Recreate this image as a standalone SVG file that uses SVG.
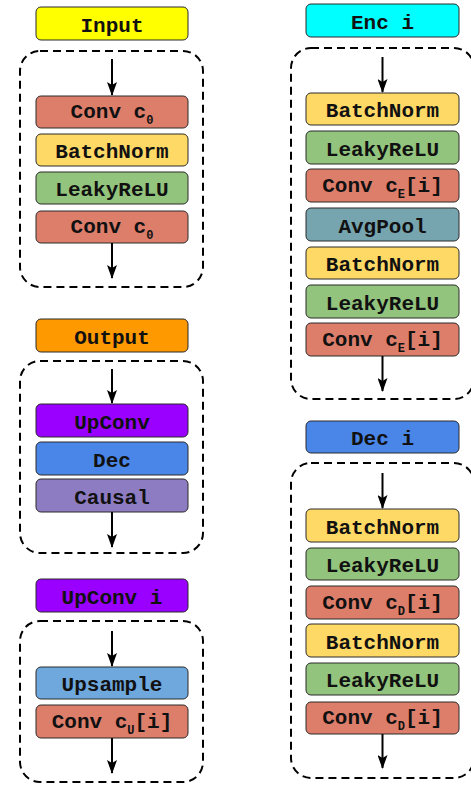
<svg xmlns="http://www.w3.org/2000/svg" width="471" height="787" viewBox="0 0 471 787">
  <style>
    .blk { stroke: #2b2b2b; stroke-width: 1; }
    .frame { fill: none; stroke: #000; stroke-width: 2; stroke-dasharray: 8 5; }
    .lbl { font-family: "Liberation Mono", "Courier New", monospace; font-weight: bold; font-size: 21px; fill: #111; text-anchor: middle; }
    .sub { font-size: 12px; }
    .flow { stroke: #000; stroke-width: 2; fill: none; marker-end: url(#head); }
    .yellow { fill: #ffff00; }
    .conv { fill: #dd7e6b; }
    .bn { fill: #ffd966; }
    .relu { fill: #93c47d; }
    .orange { fill: #ff9900; }
    .purple { fill: #9900ff; }
    .blue { fill: #4a86e8; }
    .lavender { fill: #8e7cc3; }
    .sky { fill: #6fa8dc; }
    .cyan { fill: #00ffff; }
    .teal { fill: #76a5af; }
  </style>
  <defs>
    <marker id="head" viewBox="0 0 14 10" refX="13" refY="5" markerWidth="14" markerHeight="10" markerUnits="userSpaceOnUse" orient="auto">
      <path d="M0,0 L14,5 L0,10 L3,5 z" fill="#000"/>
    </marker>
  </defs>

  <!-- dashed block frames -->
  <g id="frames">
    <rect class="frame" x="20" y="51" width="183" height="236" rx="20"/>
    <rect class="frame" x="20" y="361" width="183" height="192" rx="20"/>
    <rect class="frame" x="20" y="621" width="183" height="161" rx="20"/>
    <rect class="frame" x="291" y="48" width="183" height="351" rx="20"/>
    <rect class="frame" x="291" y="463" width="183" height="315" rx="20"/>
  </g>

  <!-- Input block -->
  <g id="input">
    <rect class="blk yellow" x="36" y="7" width="152" height="33" rx="5"/>
    <text class="lbl" x="112" y="32">Input</text>
  </g>
  <g id="input-conv1">
    <rect class="blk conv" x="36" y="96" width="152" height="32" rx="5"/>
    <text class="lbl" x="112" y="118">Conv c<tspan class="sub" dy="6">0</tspan></text>
  </g>
  <g id="input-bn">
    <rect class="blk bn" x="36" y="134" width="152" height="32" rx="5"/>
    <text class="lbl" x="112" y="158">BatchNorm</text>
  </g>
  <g id="input-relu">
    <rect class="blk relu" x="36" y="172" width="152" height="32" rx="5"/>
    <text class="lbl" x="112" y="196">LeakyReLU</text>
  </g>
  <g id="input-conv2">
    <rect class="blk conv" x="36" y="211" width="152" height="32" rx="5"/>
    <text class="lbl" x="112" y="233">Conv c<tspan class="sub" dy="6">0</tspan></text>
  </g>

  <!-- Output block -->
  <g id="output">
    <rect class="blk orange" x="36" y="319" width="152" height="33" rx="5"/>
    <text class="lbl" x="112" y="344">Output</text>
  </g>
  <g id="output-upconv">
    <rect class="blk purple" x="36" y="404" width="152" height="33" rx="5"/>
    <text class="lbl" x="112" y="429">UpConv</text>
  </g>
  <g id="output-dec">
    <rect class="blk blue" x="36" y="442" width="152" height="33" rx="5"/>
    <text class="lbl" x="112" y="467">Dec</text>
  </g>
  <g id="output-causal">
    <rect class="blk lavender" x="36" y="479" width="152" height="33" rx="5"/>
    <text class="lbl" x="112" y="504">Causal</text>
  </g>

  <!-- UpConv i block -->
  <g id="upconv-i">
    <rect class="blk purple" x="36" y="579" width="152" height="33" rx="5"/>
    <text class="lbl" x="112" y="604">UpConv i</text>
  </g>
  <g id="upconv-upsample">
    <rect class="blk sky" x="36" y="667" width="152" height="32" rx="5"/>
    <text class="lbl" x="112" y="691">Upsample</text>
  </g>
  <g id="upconv-conv">
    <rect class="blk conv" x="36" y="705" width="152" height="33" rx="5"/>
    <text class="lbl" x="112" y="728">Conv c<tspan class="sub" dy="6">U</tspan><tspan dy="-6">[i]</tspan></text>
  </g>

  <!-- Enc i block -->
  <g id="enc-i">
    <rect class="blk cyan" x="306" y="4" width="153" height="33" rx="5"/>
    <text class="lbl" x="382.5" y="29">Enc i</text>
  </g>
  <g id="enc-bn1">
    <rect class="blk bn" x="306" y="93" width="153" height="32" rx="5"/>
    <text class="lbl" x="382.5" y="117">BatchNorm</text>
  </g>
  <g id="enc-relu1">
    <rect class="blk relu" x="306" y="131" width="153" height="33" rx="5"/>
    <text class="lbl" x="382.5" y="156">LeakyReLU</text>
  </g>
  <g id="enc-conv1">
    <rect class="blk conv" x="306" y="169" width="153" height="33" rx="5"/>
    <text class="lbl" x="382.5" y="192">Conv c<tspan class="sub" dy="6">E</tspan><tspan dy="-6">[i]</tspan></text>
  </g>
  <g id="enc-pool">
    <rect class="blk teal" x="306" y="208" width="153" height="33" rx="5"/>
    <text class="lbl" x="382.5" y="233">AvgPool</text>
  </g>
  <g id="enc-bn2">
    <rect class="blk bn" x="306" y="247" width="153" height="32" rx="5"/>
    <text class="lbl" x="382.5" y="271">BatchNorm</text>
  </g>
  <g id="enc-relu2">
    <rect class="blk relu" x="306" y="285" width="153" height="33" rx="5"/>
    <text class="lbl" x="382.5" y="310">LeakyReLU</text>
  </g>
  <g id="enc-conv2">
    <rect class="blk conv" x="306" y="323" width="153" height="33" rx="5"/>
    <text class="lbl" x="382.5" y="346">Conv c<tspan class="sub" dy="6">E</tspan><tspan dy="-6">[i]</tspan></text>
  </g>

  <!-- Dec i block -->
  <g id="dec-i">
    <rect class="blk blue" x="306" y="421" width="153" height="32" rx="5"/>
    <text class="lbl" x="382.5" y="445">Dec i</text>
  </g>
  <g id="dec-bn1">
    <rect class="blk bn" x="306" y="509" width="153" height="33" rx="5"/>
    <text class="lbl" x="382.5" y="534">BatchNorm</text>
  </g>
  <g id="dec-relu1">
    <rect class="blk relu" x="306" y="548" width="153" height="32" rx="5"/>
    <text class="lbl" x="382.5" y="572">LeakyReLU</text>
  </g>
  <g id="dec-conv1">
    <rect class="blk conv" x="306" y="586" width="153" height="33" rx="5"/>
    <text class="lbl" x="382.5" y="609">Conv c<tspan class="sub" dy="6">D</tspan><tspan dy="-6">[i]</tspan></text>
  </g>
  <g id="dec-bn2">
    <rect class="blk bn" x="306" y="624" width="153" height="33" rx="5"/>
    <text class="lbl" x="382.5" y="649">BatchNorm</text>
  </g>
  <g id="dec-relu2">
    <rect class="blk relu" x="306" y="663" width="153" height="32" rx="5"/>
    <text class="lbl" x="382.5" y="687">LeakyReLU</text>
  </g>
  <g id="dec-conv2">
    <rect class="blk conv" x="306" y="702" width="153" height="32" rx="5"/>
    <text class="lbl" x="382.5" y="724">Conv c<tspan class="sub" dy="6">D</tspan><tspan dy="-6">[i]</tspan></text>
  </g>

  <!-- in/out arrows of each block -->
  <g id="connectors">
    <line class="flow" x1="112" y1="59" x2="112" y2="95"/>
    <line class="flow" x1="112" y1="243" x2="112" y2="278"/>
    <line class="flow" x1="112" y1="369" x2="112" y2="403"/>
    <line class="flow" x1="112" y1="512" x2="112" y2="547"/>
    <line class="flow" x1="112" y1="631" x2="112" y2="666"/>
    <line class="flow" x1="112" y1="738" x2="112" y2="773"/>
    <line class="flow" x1="382.5" y1="57" x2="382.5" y2="92"/>
    <line class="flow" x1="382.5" y1="356" x2="382.5" y2="391"/>
    <line class="flow" x1="382.5" y1="473" x2="382.5" y2="508"/>
    <line class="flow" x1="382.5" y1="734" x2="382.5" y2="768"/>
  </g>
</svg>
